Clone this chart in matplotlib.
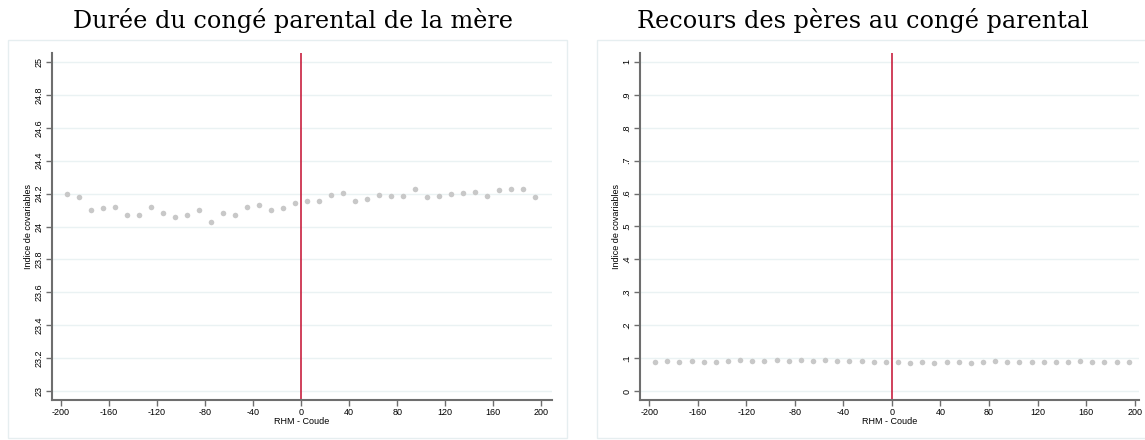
import matplotlib
matplotlib.use("Agg")
import matplotlib.pyplot as plt
from matplotlib.patches import Rectangle
import numpy as np

# bin centres (RHM - Coude)
bins = [-195, -185, -175, -165, -155, -145, -135, -125, -115, -105,
        -95, -85, -75, -65, -55, -45, -35, -25, -15, -5,
        5, 15, 25, 35, 45, 55, 65, 75, 85, 95,
        105, 115, 125, 135, 145, 155, 165, 175, 185, 195]

# left panel: mother's parental leave duration
mother_vals = [24.196, 24.18, 24.10, 24.11, 24.12, 24.07, 24.07, 24.12, 24.08, 24.06,
               24.07, 24.10, 24.03, 24.085, 24.07, 24.12, 24.13, 24.10, 24.11, 24.143,
               24.153, 24.158, 24.19, 24.204, 24.153, 24.17, 24.19, 24.186, 24.186, 24.228,
               24.178, 24.188, 24.20, 24.206, 24.212, 24.188, 24.222, 24.23, 24.228, 24.182]

# right panel: fathers taking parental leave
father_vals = [0.087, 0.092, 0.089, 0.091, 0.089, 0.089, 0.091, 0.093, 0.090, 0.090,
               0.094, 0.092, 0.094, 0.090, 0.094, 0.091, 0.092, 0.091, 0.089, 0.087,
               0.088, 0.086, 0.087, 0.086, 0.089, 0.088, 0.086, 0.088, 0.090, 0.089,
               0.088, 0.088, 0.087, 0.088, 0.088, 0.090, 0.088, 0.088, 0.088, 0.088]

titles = ["Durée du congé parental de la mère", "Recours des pères au congé parental"]
xticks = [-200, -160, -120, -80, -40, 0, 40, 80, 120, 160, 200]
left_yticks = [23, 23.2, 23.4, 23.6, 23.8, 24, 24.2, 24.4, 24.6, 24.8, 25]
left_ylabels = ["23", "23.2", "23.4", "23.6", "23.8", "24", "24.2", "24.4", "24.6", "24.8", "25"]
right_yticks = [0, .1, .2, .3, .4, .5, .6, .7, .8, .9, 1]
right_ylabels = ["0", ".1", ".2", ".3", ".4", ".5", ".6", ".7", ".8", ".9", "1"]

W, H = 1145, 440
fig = plt.figure(figsize=(W / 100, H / 100), dpi=100)
plt.rcParams["font.family"] = ["Liberation Sans", "DejaVu Sans"]

axisCol = "#6e6e6e"
gridCol = "#eaf2f3"
dotCol = "#c8c8c8"
redCol = "#c8203f"
frameCol = "#e6eef0"

def px(x0, y0, x1, y1):
    return [x0 / W, 1 - y1 / H, (x1 - x0) / W, (y1 - y0) / H]

panels = [
    dict(ax=px(52, 53, 552, 400), frame=(8, 40, 567, 438), title_x=293, vals=mother_vals,
         ylim=(22.945, 25.055), yt=left_yticks, yl=left_ylabels, xlim=(-207.5, 209)),
    dict(ax=px(640, 53, 1139, 400), frame=(597, 40, 1150, 438), title_x=863, vals=father_vals,
         ylim=(-0.0273, 1.0273), yt=right_yticks, yl=right_ylabels, xlim=(-207.5, 203.5)),
]

for p, title in zip(panels, titles):
    fx0, fy0, fx1, fy1 = p["frame"]
    fig.patches.append(Rectangle((fx0 / W, 1 - fy1 / H), (fx1 - fx0) / W, (fy1 - fy0) / H,
                                 transform=fig.transFigure, fill=False,
                                 edgecolor=frameCol, linewidth=1.0))
    fig.text(p["title_x"] / W, 1 - 28 / H, title,
             ha="center", va="baseline", family="DejaVu Serif", fontsize=17.2)

    ax = fig.add_axes(p["ax"])
    ax.set_xlim(p["xlim"])
    ax.set_ylim(p["ylim"])
    for yv in p["yt"]:
        ax.axhline(yv, color=gridCol, linewidth=1.0, zorder=0)
    ax.axvline(0, color=redCol, linewidth=1.2, zorder=2)
    ax.scatter(bins, p["vals"], s=16, color=dotCol, linewidths=0, zorder=3)

    ax.set_xticks(xticks)
    ax.set_xticklabels([str(v) for v in xticks], fontsize=6.5)
    ax.set_yticks(p["yt"])
    ax.set_yticklabels(p["yl"], fontsize=6.5, rotation=90, va="center")
    ax.tick_params(axis="both", direction="out", length=4, width=1, color=axisCol, pad=2)
    for s in ["top", "right"]:
        ax.spines[s].set_visible(False)
    for s in ["left", "bottom"]:
        ax.spines[s].set_color(axisCol)
        ax.spines[s].set_linewidth(1.5)
    ax.set_xlabel("RHM - Coude", fontsize=6.5, labelpad=0)
    ax.set_ylabel("Indice de covariables", fontsize=6.5, labelpad=1)

fig.savefig("out.png", dpi=100)
